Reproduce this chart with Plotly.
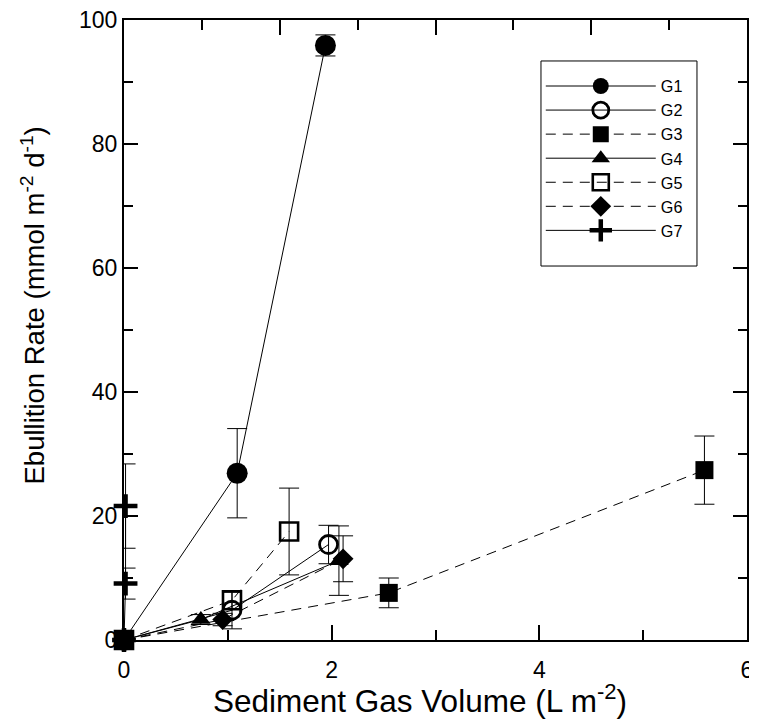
import plotly.graph_objects as go

# ---- data ----
names = ["G1", "G2", "G3", "G4", "G5", "G6", "G7"]

g1_x = [0, 1.09, 1.94]
g1_y = [0, 26.9, 95.9]
g1_e = [0, 7.2, 1.7]

g2_x = [0, 1.04, 1.97]
g2_y = [0, 4.8, 15.4]
g2_e = [0, 3.0, 3.1]

g3_x = [0, 2.55, 5.59]
g3_y = [0, 7.6, 27.4]
g3_e = [0, 2.4, 5.5]

g4_x = [0, 0.74, 2.07]
g4_y = [0, 3.3, 12.8]
g4_e = [0, 0.8, 5.6]

g5_x = [0, 1.04, 1.59]
g5_y = [0, 6.4, 17.5]
g5_e = [0, 1.3, 7.0]

g6_x = [0, 0.95, 2.11]
g6_y = [0, 3.3, 13.1]
g6_e = [0, 1.0, 3.7]

g7_x = [0, 0.015, 0.015]
g7_y = [0, 9.1, 21.6]
g7_e = [0, 2.5, 6.8]

x_ticks = [0, 2, 4, 6]
y_ticks = [0, 20, 40, 60, 80, 100]

x_title = "Sediment Gas Volume (L m<sup>-2</sup>)"
y_title = "Ebullition Rate (mmol m<sup>-2</sup> d<sup>-1</sup>)"

series = [
    (g1_x, g1_y, g1_e),
    (g2_x, g2_y, g2_e),
    (g3_x, g3_y, g3_e),
    (g4_x, g4_y, g4_e),
    (g5_x, g5_y, g5_e),
    (g6_x, g6_y, g6_e),
    (g7_x, g7_y, g7_e),
]

styles = [
    dict(symbol="circle", size=21, line=dict(width=0), dash="solid"),
    dict(symbol="circle-open", size=18, line=dict(width=2.8), dash="solid"),
    dict(symbol="square", size=18, line=dict(width=0), dash="10px,7px"),
    dict(symbol="triangle-up", size=17, line=dict(width=0), dash="solid"),
    dict(symbol="square-open", size=18, line=dict(width=2.6), dash="10px,7px"),
    dict(symbol="diamond", size=16, line=dict(width=0), dash="10px,7px"),
    dict(symbol="cross-thin", size=17, line=dict(width=4.5, color="black"), dash="solid"),
]

FONT = "Liberation Sans, Arial, sans-serif"

fig = go.Figure()
for name, (xs, ys, es), st in zip(names, series, styles):
    fig.add_trace(go.Scatter(
        x=xs, y=ys, name=name, mode="lines+markers",
        line=dict(color="black", width=1, dash=st["dash"]),
        marker=dict(symbol=st["symbol"], size=st["size"], color="black", line=st["line"]),
        error_y=dict(type="data", array=es, visible=True, color="black", thickness=1, width=10),
        cliponaxis=False,
    ))

# empty trace to activate the top mirror axis
fig.add_trace(go.Scatter(x=[], y=[], xaxis="x2", showlegend=False, hoverinfo="skip"))

tick_common = dict(ticks="inside", tickwidth=2, tickcolor="black")
minor_common = dict(ticks="inside", tickwidth=2, tickcolor="black", showgrid=False)

# page body has an 8px default margin; figure sized so the page does not overflow the window
fig.update_layout(
    width=749, height=711,
    margin=dict(l=116, r=10, t=12, b=79, autoexpand=False),
    paper_bgcolor="white", plot_bgcolor="white",
    font=dict(family=FONT, color="black", size=23),
    showlegend=True,
    legend=dict(
        x=0.669, y=0.921, xanchor="left", yanchor="top",
        borderwidth=0, bgcolor="rgba(0,0,0,0)",
        font=dict(size=16.2, family=FONT),
        itemwidth=110, tracegroupgap=0,
    ),
    shapes=[dict(type="rect", xref="paper", yref="paper",
                 x0=0.6693, x1=0.9197, y0=0.6032, y1=0.9339,
                 line=dict(color="black", width=1), layer="below")],
    annotations=[
        dict(text=x_title, xref="paper", yref="paper", x=0.475, y=-0.095,
             xanchor="center", yanchor="middle", showarrow=False, font=dict(size=31.5)),
        dict(text=y_title, xref="paper", yref="paper", x=-0.145, y=0.539,
             xanchor="center", yanchor="middle", textangle=-90, showarrow=False, font=dict(size=27.5)),
    ],
    xaxis=dict(
        range=[0, 6], tickvals=x_ticks, showgrid=False, zeroline=False, automargin=False,
        showline=True, linecolor="black", linewidth=2, ticklen=15, ticklabelstandoff=8,
        ticklabeloverflow="allow",
        minor=dict(dtick=1, tick0=0, ticklen=10, **minor_common),
        tickfont=dict(size=23),
        **tick_common,
    ),
    xaxis2=dict(
        overlaying="x", side="top", anchor="y", range=[0, 8], dtick=2, tick0=0,
        showgrid=False, zeroline=False, showticklabels=False, automargin=False,
        showline=True, linecolor="black", linewidth=2, ticklen=15,
        minor=dict(dtick=1, tick0=0, ticklen=10, **minor_common),
        **tick_common,
    ),
    yaxis=dict(
        range=[0, 100], tickvals=y_ticks, showgrid=False, zeroline=False, automargin=False,
        showline=True, linecolor="black", linewidth=2, mirror="ticks", ticklen=14,
        ticklabeloverflow="allow",
        minor=dict(dtick=10, tick0=0, ticklen=9, **minor_common),
        tickfont=dict(size=23),
        **tick_common,
    ),
)

fig.write_html("out.html")
